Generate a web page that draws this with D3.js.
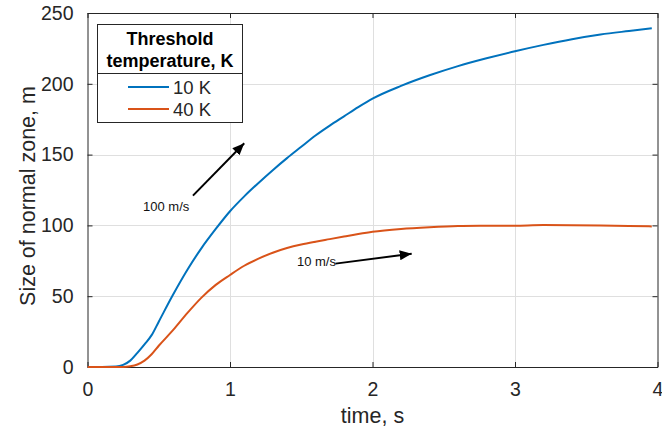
<!DOCTYPE html>
<html><head><meta charset="utf-8">
<script src="https://cdn.jsdelivr.net/npm/d3@7"></script>
<style>body{margin:0;background:#fff}svg{display:block}text{font-family:"Liberation Sans",Arial,sans-serif}</style>
</head><body>
<script>
const times   = [0,0.1,0.2,0.25,0.3,0.35,0.4,0.45,0.5,0.6,0.7,0.8,0.9,1.0,1.1,1.2,1.3,1.4,1.5,1.6,1.7,1.8,1.9,2.0,2.2,2.4,2.6,2.8,3.0,3.2,3.4,3.6,3.8,3.96];
const blue10K = [0,0,0.3,1.5,4.5,10,16,22.5,32,51,68.5,84,97.5,110,120.5,130,139,147.5,155.5,163.5,170.5,177,183.5,189.5,198.5,206,212.5,218,223,227.5,231.5,234.8,237.3,239.2];
const red40K  = [0,0,0,0,0.5,1.8,4.5,9,15,26,38,49,58,65,71.5,76.5,80.7,84,86.5,88.5,90.3,92.1,93.9,95.5,97.5,98.7,99.5,99.7,99.8,100.2,100.1,99.9,99.6,99.3];
const seriesNames = ["10 K","40 K"];
const xTicks = [0,1,2,3,4];
const yTicks = [0,50,100,150,200,250];
const legendTitle = ["Threshold","temperature, K"];
const annotations = [
  {label:"100 m/s", from:[0.74,121], to:[1.1,158], text:[0.39,110]},
  {label:"10 m/s",  from:[1.74,73],  to:[2.275,80], text:[1.47,71]}
];

const W=662,H=429;
const svg=d3.select("body").append("svg").attr("width",W).attr("height",H);
const x=d3.scaleLinear().domain([0,4]).range([87.5,657.5]);
const y=d3.scaleLinear().domain([0,250]).range([367,13]);
const axisCol="#262626";

// grid
svg.append("g").selectAll("line").data(xTicks.slice(1,-1)).join("line")
  .attr("x1",d=>Math.round(x(d))+0.5).attr("x2",d=>Math.round(x(d))+0.5).attr("y1",y(250)).attr("y2",y(0))
  .attr("stroke","#dfdfdf").attr("stroke-width",1);
svg.append("g").selectAll("line").data(yTicks.slice(1,-1)).join("line")
  .attr("y1",d=>Math.round(y(d))+0.5).attr("y2",d=>Math.round(y(d))+0.5).attr("x1",x(0)).attr("x2",x(4))
  .attr("stroke","#dfdfdf").attr("stroke-width",1);

// axes
const fs=19.5;
const xb=svg.append("g").attr("transform",`translate(0,${y(0)})`)
  .call(d3.axisBottom(x).tickValues(xTicks).tickSizeInner(-5).tickSizeOuter(0).tickPadding(15).tickFormat(d3.format("d")));
const xt=svg.append("g").attr("transform",`translate(0,${y(250)})`)
  .call(d3.axisTop(x).tickValues(xTicks).tickSizeInner(-5).tickSizeOuter(0).tickFormat(""));
const yl=svg.append("g").attr("transform",`translate(${x(0)},0)`)
  .call(d3.axisLeft(y).tickValues(yTicks).tickSizeInner(-5).tickSizeOuter(0).tickPadding(14));
const yr=svg.append("g").attr("transform",`translate(${x(4)},0)`)
  .call(d3.axisRight(y).tickValues(yTicks).tickSizeInner(-5).tickSizeOuter(0).tickFormat(""));
[xb,xt,yl,yr].forEach(g=>{
  g.selectAll("path").attr("stroke",axisCol).attr("stroke-width",1);
  g.selectAll("line").attr("stroke",axisCol).attr("stroke-width",1);
  g.selectAll("text").attr("fill",axisCol).style("font-size",fs+"px").style("font-family","'Liberation Sans',Arial,sans-serif");
});

// axis labels
svg.append("text").attr("x",(x(0)+x(4))/2).attr("y",423).attr("text-anchor","middle")
  .attr("fill",axisCol).style("font-size","21.5px").text("time, s");
svg.append("text").attr("transform",`translate(35,196) rotate(-90)`).attr("text-anchor","middle")
  .attr("fill",axisCol).style("font-size","21.5px").text("Size of normal zone, m");

// lines
const line=d3.line().x((d,i)=>x(times[i])).y(d=>y(d)).curve(d3.curveMonotoneX);
svg.append("path").datum(blue10K).attr("d",line).attr("fill","none").attr("stroke","#0072BD").attr("stroke-width",2);
svg.append("path").datum(red40K).attr("d",line).attr("fill","none").attr("stroke","#D95319").attr("stroke-width",2);

// annotations
svg.append("defs").append("marker").attr("id","ah").attr("viewBox","0 0 12 10").attr("refX",12).attr("refY",5)
  .attr("markerWidth",12).attr("markerHeight",10).attr("markerUnits","userSpaceOnUse").attr("orient","auto")
  .append("path").attr("d","M0,0L12,5L0,10Z").attr("fill","#000");
annotations.forEach(a=>{
  svg.append("line").attr("x1",x(a.from[0])).attr("y1",y(a.from[1])).attr("x2",x(a.to[0])).attr("y2",y(a.to[1]))
    .attr("stroke","#000").attr("stroke-width",2).attr("marker-end","url(#ah)");
  svg.append("text").attr("x",x(a.text[0])).attr("y",y(a.text[1])).attr("fill","#111").style("font-size","13px").text(a.label);
});

// legend
const lg=svg.append("g");
lg.append("rect").attr("x",97.5).attr("y",24.5).attr("width",145).attr("height",98).attr("fill","#fff").attr("stroke",axisCol).attr("stroke-width",1);
lg.append("line").attr("x1",97.5).attr("x2",242.5).attr("y1",73.5).attr("y2",73.5).attr("stroke",axisCol);
legendTitle.forEach((t,i)=>lg.append("text").attr("x",170).attr("y",45+i*21.5).attr("text-anchor","middle")
  .attr("fill","#000").style("font-size","18px").style("font-weight","bold").text(t));
const cols=["#0072BD","#D95319"];
seriesNames.forEach((n,i)=>{
  lg.append("line").attr("x1",128).attr("x2",169).attr("y1",87+i*22).attr("y2",87+i*22).attr("stroke",cols[i]).attr("stroke-width",2);
  lg.append("text").attr("x",173).attr("y",94+i*22).attr("fill",axisCol).style("font-size","18.5px").text(n);
});
</script>
</body></html>
